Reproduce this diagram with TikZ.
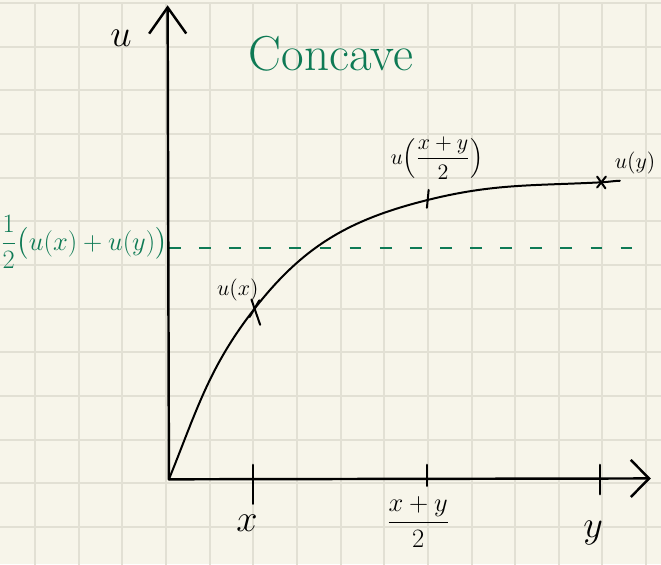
\documentclass[tikz,border=0pt]{standalone}
\usepackage{amsmath, amssymb}
\usepackage{xcolor}
\definecolor{paperCream}{HTML}{F7F5EA}
\definecolor{paperGrid}{HTML}{E2E0D4}
\definecolor{inkGreen}{HTML}{0E7A55}
\usepackage{tikz}
\usetikzlibrary{arrows.meta, positioning, calc}

\begin{document}
\begin{tikzpicture}[
    gridline/.style={draw=paperGrid, line width=1.3pt},
    axis/.style={line width=1.6pt, line cap=round, -{Straight Barb[length=#1, width=0.85cm, line width=1.6pt]}},
    ink/.style={line width=1.3pt, line cap=round},
    tickline/.style={line width=1.6pt, line cap=round},
    axislbl/.style={font=\fontsize{26}{30}\selectfont, inner sep=0pt},
    ptlbl/.style={font=\Large, inner sep=0pt},
    greenlbl/.style={text=inkGreen, inner sep=0pt},
    halfline/.style={draw=inkGreen, line width=1.3pt, dash pattern=on 0.27cm off 0.42cm}
]
\useasboundingbox (0,0) rectangle (15.143,12.921);
\fill[paperCream] (0,0) rectangle (15.143,12.921);
\begin{scope}
  \clip (0,0) rectangle (15.143,12.921);
  \draw[gridline, shift={(0.802,0.852)}] (-1,-1) grid (15,12);
\end{scope}

\coordinate (orig) at (3.87,1.94);
\coordinate (ytip) at (3.84,12.8);
\coordinate (xtip) at (14.91,1.96);
\coordinate (half) at (3.87,7.23);
\coordinate (halfend) at (14.48,7.23);
\coordinate (ux) at (5.84,5.86);
\coordinate (umid) at (9.80,8.34);
\coordinate (uy) at (13.79,8.745);
\coordinate (uend) at (14.20,8.78);

\draw[halfline] (half) -- (halfend);
\draw[axis=0.6cm] (orig) -- (ytip);
\draw[axis=0.42cm] (orig) -- (xtip);

\draw[tickline] (5.79,2.27) -- (5.79,1.38);
\draw[tickline] (9.78,2.27) -- (9.78,1.79);
\draw[tickline] (13.75,2.27) -- (13.75,1.60);

\draw[ink] (orig) to[out=68, in=232] (ux)
  to[out=52, in=194] (umid)
  to[out=14, in=183] (uy)
  to[out=3, in=182] (uend);

\draw[ink] ($(ux)+(-0.08,0.20)$) -- ($(ux)+(0.12,-0.38)$);
\draw[ink] ($(ux)+(-0.12,-0.20)$) -- ($(ux)+(0.10,0.18)$);
\draw[ink] ($(umid)+(0.02,0.23)$) -- ($(umid)+(-0.02,-0.18)$);
\draw[ink] ($(uy)+(-0.11,0.13)$) -- ($(uy)+(0.08,-0.14)$);
\draw[ink] ($(uy)+(-0.11,-0.12)$) -- ($(uy)+(0.09,0.13)$);

\node (ulbl) [axislbl] at (2.77,12.05) {$u$};
\node (xlbl) [axislbl] at (5.66,0.94) {$x$};
\node (ylbl) [axislbl] at (13.59,0.70) {$y$};
\node (midlbl) [font=\LARGE, inner sep=0pt] at (9.58,0.96) {$\dfrac{x+y}{2}$};

\node (uxlbl) [ptlbl] at (5.45,6.28) {$u(x)$};
\node (umidlbl) [ptlbl] at (10.01,9.30) {$u\Bigl(\dfrac{x+y}{2}\Bigr)$};
\node (uylbl) [ptlbl] at (14.55,9.19) {$u(y)$};

\node (title) [greenlbl, font=\fontsize{32}{36}\selectfont] at (7.58,11.68) {Concave};
\node (halflbl) [greenlbl, font=\LARGE, anchor=east] at (3.84,7.38) {$\dfrac{1}{2}\bigl(u(x)+u(y)\bigr)$};

\end{tikzpicture}
\end{document}
